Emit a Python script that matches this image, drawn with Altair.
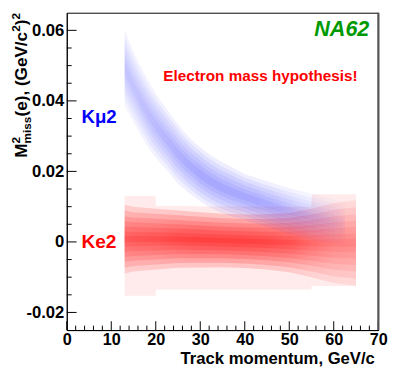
import altair as alt
import pandas as pd

# ---------------- values ----------------
X_DOMAIN = [0, 70]
Y_DOMAIN = [-0.025, 0.065]

x_major = [0, 10, 20, 30, 40, 50, 60, 70]
x_minor = [2, 4, 6, 8, 12, 14, 16, 18, 22, 24, 26, 28, 32, 34, 36, 38,
           42, 44, 46, 48, 52, 54, 56, 58, 62, 64, 66, 68]
y_major = [-0.02, 0.0, 0.02, 0.04, 0.06]
y_minor = [-0.015, -0.01, -0.005, 0.005, 0.01, 0.015, 0.025, 0.03, 0.035,
           0.045, 0.05, 0.055]

# Ke2 (red) population: profile per momentum knot
red_x       = [13, 15, 20, 25, 30, 35, 40, 45, 50, 55, 60, 65]
red_center  = [0.0008, 0.0008, 0.0008, 0.0008, 0.0006, 0.0004, 0.0002, 0.0,
               -0.0002, -0.0003, -0.0003, -0.0003]
red_sigma   = [0.0036, 0.0034, 0.0032, 0.0030, 0.0029, 0.0028, 0.0028, 0.0029,
               0.0031, 0.0036, 0.0042, 0.0045]
red_density = [0.75, 0.8, 0.85, 0.95, 1.0, 1.0, 1.0, 0.95, 0.85, 0.65, 0.5, 0.45]

# hard edges of the red population (steps at 20 and 55 GeV/c)
red_edge_x   = [13, 19.95, 20.05, 54.95, 55.05, 65]
red_edge_top = [0.013, 0.013, 0.0102, 0.0100, 0.0135, 0.0135]
red_edge_bot = [-0.0153, -0.0153, -0.0135, -0.0135, -0.0125, -0.0125]

# Kmu2 (blue) population
blue_x       = [13, 15, 17.5, 20, 22.5, 25, 27.5, 30, 32.5, 35, 37.5, 40,
                42.5, 45, 47.5, 50, 52.5, 55, 57.5, 60, 62.5]
blue_center  = [0.0495, 0.0440, 0.0380, 0.0330, 0.0290, 0.0250, 0.0218, 0.0192,
                0.0170, 0.0153, 0.0140, 0.0128, 0.0117, 0.0107, 0.0097, 0.0088,
                0.0080, 0.0072, 0.0065, 0.0058, 0.0052]
blue_sigma   = [0.0045, 0.0042, 0.0040, 0.0038, 0.0036, 0.0035, 0.0033, 0.0032,
                0.0031, 0.0030, 0.0029, 0.0027, 0.0027, 0.0027, 0.0027, 0.0027,
                0.0027, 0.0027, 0.0027, 0.0026, 0.0025]
blue_density = [0.65, 0.7, 0.75, 0.8, 0.85, 0.9, 0.95, 1.0, 1.0, 1.0, 1.0, 1.0,
                1.0, 0.95, 0.9, 0.8, 0.7, 0.55, 0.42, 0.28, 0.1]

labels_txt = ["NA62", "Electron mass hypothesis!", "Kμ2", "Ke2"]
labels_x   = [68.0, 21.7, 3.3, 3.3]
labels_y   = [0.0583, 0.0456, 0.0336, -0.0017]

FONT = "Liberation Sans"
W, H = 318, 324

# ---------------- helpers ----------------
xs = alt.Scale(domain=X_DOMAIN, nice=False, zero=False)
ys = alt.Scale(domain=Y_DOMAIN, nice=False, zero=False)

xaxis = alt.Axis(values=x_major, format="d", ticks=False, grid=False,
                 labelFontSize=16.5, labelFontWeight="bold", labelFont=FONT,
                 labelColor="black", labelPadding=2, labelFlush=False,
                 labelOverlap=False, domainColor="black", domainWidth=1,
                 title="Track momentum, GeV/c", titleFont=FONT,
                 titleFontSize=17, titleFontWeight="bold", titleColor="black",
                 titleX=W - 4, titleY=34, titleAlign="right",
                 titleBaseline="alphabetic", titleAngle=0)
yaxis = alt.Axis(values=y_major,
                 labelExpr="datum.value == 0 ? '0' : (datum.value < 0 ? '-' : '') + format(abs(datum.value), '.2f')",
                 ticks=False, grid=False, labelFontSize=17, labelFontWeight="bold",
                 labelFont=FONT, labelColor="black", labelPadding=3,
                 labelFlush=False, labelOverlap=False, domainColor="black",
                 domainWidth=1, title=None)


def X(f):
    return alt.X(f"{f}:Q", scale=xs, axis=xaxis)


def Y(f):
    return alt.Y(f"{f}:Q", scale=ys, axis=yaxis)


def hgrad(rgb, alphas, xs_, x0, x1):
    stops = [alt.GradientStop(color=f"rgba({rgb},{a:.3f})",
                              offset=(xv - x0) / (x1 - x0))
             for a, xv in zip(alphas, xs_)]
    return alt.LinearGradient(gradient="linear", x1=0, x2=1, y1=0, y2=0,
                              stops=stops)


def area_chart(df, fill, interp):
    return alt.Chart(df).mark_area(fill=fill, interpolate=interp,
                                   orient="vertical").encode(
        x=X("x"), y=Y("lo"), y2=alt.Y2("hi"))


def band(xv, centers, sigmas, k, fill, interp):
    df = pd.DataFrame({
        "x": xv,
        "lo": [c - k * s for c, s in zip(centers, sigmas)],
        "hi": [c + k * s for c, s in zip(centers, sigmas)],
    })
    return area_chart(df, fill, interp)


layers = []

# red envelope (sparse outer events)
env_df = pd.DataFrame({"x": red_edge_x, "lo": red_edge_bot, "hi": red_edge_top})
layers.append(area_chart(env_df, "rgba(255,0,0,0.08)", "linear"))

# red density levels
for k in [2.7, 2.25, 1.8, 1.4, 1.0, 0.6, 0.25]:
    g = hgrad("255,0,0", [0.17 * d for d in red_density], red_x, red_x[0], red_x[-1])
    layers.append(band(red_x, red_center, red_sigma, k, g, "linear"))

# blue density levels
for k in [2.4, 2.0, 1.6, 1.2, 0.8, 0.4]:
    g = hgrad("0,0,255", [0.065 * d for d in blue_density], blue_x, blue_x[0], blue_x[-1])
    layers.append(band(blue_x, blue_center, blue_sigma, k, g, "monotone"))

# inward ticks
layers.append(alt.Chart(pd.DataFrame({"v": y_major})).mark_rule(color="black").encode(
    y=Y("v"), x=alt.value(0), x2=alt.value(10)))
layers.append(alt.Chart(pd.DataFrame({"v": y_minor})).mark_rule(color="black").encode(
    y=Y("v"), x=alt.value(0), x2=alt.value(5)))
layers.append(alt.Chart(pd.DataFrame({"v": x_major})).mark_rule(color="black").encode(
    x=X("v"), y=alt.value(H), y2=alt.value(H - 9)))
layers.append(alt.Chart(pd.DataFrame({"v": x_minor})).mark_rule(color="black").encode(
    x=X("v"), y=alt.value(H), y2=alt.value(H - 4.5)))

# right frame shadow
layers.append(alt.Chart(pd.DataFrame({"v": [X_DOMAIN[1]]})).mark_rule(
    color="#555555", strokeWidth=2).encode(x=X("v"), y=alt.value(0), y2=alt.value(H)))

# annotations
lab = pd.DataFrame({"t": labels_txt, "x": labels_x, "y": labels_y})
styles = [
    dict(color="#009a00", fontSize=22, fontStyle="italic", align="right"),
    dict(color="#ff0000", fontSize=15.6, fontStyle="normal", align="left"),
    dict(color="#0000ff", fontSize=19, fontStyle="normal", align="left"),
    dict(color="#ff0000", fontSize=19.5, fontStyle="normal", align="left"),
]
for i, st in enumerate(styles):
    layers.append(alt.Chart(lab.iloc[[i]]).mark_text(
        font=FONT, fontWeight="bold", baseline="alphabetic", **st).encode(
        x=X("x"), y=Y("y"), text="t:N"))

# y axis title pieces (rotated): M^2_miss(e), (GeV/c^2)^2
S, s = 17.5, 12
title_pieces = [
    ("M", S, -41, 148),
    ("2", s, -48, 133.5),
    ("miss", s, -36.5, 133.5),
    ("(e), (GeV/c", S, -41, 106),
    ("2", s, -48, 19.5),
    (")", S, -41, 12.8),
    ("2", s, -48, 7),
]
for txt, fs, vx, vy in title_pieces:
    layers.append(alt.Chart(pd.DataFrame({"t": [txt]})).mark_text(
        font=FONT, fontWeight="bold", fontSize=fs, color="black", angle=270,
        align="left", baseline="alphabetic").encode(
        text="t:N", x=alt.value(vx), y=alt.value(vy)))

chart = alt.layer(*layers).properties(
    width=W, height=H,
    padding={"left": 60, "top": 1, "right": 12, "bottom": 40},
    autosize=alt.AutoSizeParams(type="none"),
    background="white",
).configure_view(stroke="black", strokeWidth=1)

chart.save("out.html", embed_options={"renderer": "svg", "actions": False})
